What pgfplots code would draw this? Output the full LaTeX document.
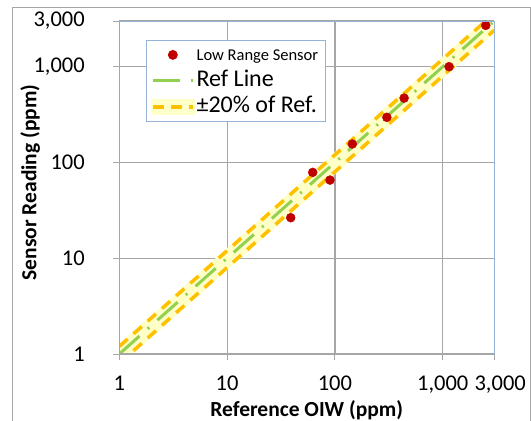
\documentclass[border=0pt]{standalone}
\usepackage{pgfplots}
\pgfplotsset{compat=1.18}
\usepackage{fontspec}
\setmainfont{Carlito}
\definecolor{gridgray}{RGB}{166,166,166}
\definecolor{boxblue}{RGB}{149,179,215}
\definecolor{refgreen}{RGB}{146,208,80}
\definecolor{bandorange}{RGB}{255,192,0}
\definecolor{bandfill}{RGB}{255,255,200}
\definecolor{ptred}{RGB}{192,0,0}
\begin{document}
\begin{tikzpicture}
\useasboundingbox (-119.3pt,-67pt) rectangle (411.7pt,354pt);
\begin{axis}[
  scale only axis, width=374.9pt, height=333pt,
  xmode=log, ymode=log,
  xmin=1, xmax=3000, ymin=1, ymax=3000,
  xtick={1,10,100,1000,3000}, xticklabels={1,10,100,{1,000},{\hspace*{12pt}3,000}},
  ytick={1,10,100,1000,3000}, yticklabels={1,10,100,{1,000},{3,000}},
  minor xtick={}, minor ytick={},
  tick align=outside, major tick length=6pt,
  tick style={gridgray, line width=1pt},
  xtick pos=bottom, ytick pos=left,
  grid=major, major grid style={gridgray, line width=1.2pt},
  axis line style={draw=none},
  ticklabel style={font=\fontsize{22.5}{26}\selectfont},
  xticklabel style={yshift=-12pt},
  yticklabel style={xshift=-25pt},
  /pgf/number format/assume math mode=true,
  xlabel={Reference OIW (ppm)}, ylabel={Sensor Reading (ppm)},
  label style={font=\fontsize{21.5}{25}\selectfont\bfseries},
  xlabel style={at={(axis description cs:0.5,-0.168)}, anchor=center},
  ylabel style={at={(axis description cs:-0.2374,0.515)}, anchor=center},
  clip mode=individual,
  legend cell align=left,
  legend style={at={(axis description cs:0.0704,0.943)}, anchor=north west,
    draw=boxblue, line width=0.8pt, fill=white,
    font=\fontsize{24}{27}\selectfont,
    inner xsep=5pt, inner ysep=1.5pt, row sep=0pt,
    nodes={inner sep=2pt, text height=17pt, text depth=5pt},
    /tikz/every even column/.append style={column sep=3pt}},
]
% legend entries
\addlegendimage{only marks, mark=*, mark size=4.5pt, ptred,
  legend image code/.code={\draw[mark repeat=2,mark phase=2] plot coordinates {(0pt,0pt)(20pt,0pt)(40pt,0pt)};}}
\addlegendentry{\fontsize{16.5}{18}\selectfont Low Range Sensor}
\addlegendimage{refgreen, line width=3pt, dash pattern=on 27pt off 11pt on 2pt off 11pt,
  legend image code/.code={\draw (0pt,0pt) -- (40pt,0pt);}}
\addlegendentry{Ref Line}
\addlegendimage{bandorange, line width=3.5pt,
  legend image code/.code={\fill[bandfill] (0pt,-6.5pt) rectangle (40pt,6.5pt);
    \draw[bandorange, line width=3.5pt, dash pattern=on 11pt off 7pt] (0pt,0pt) -- (40pt,0pt);}}
\addlegendentry{±20\% of Ref.}
% band
\addplot[fill=bandfill, draw=bandfill, line width=4pt, forget plot]
  coordinates {(1,0.8) (3000,2400) (3000,3600) (1,1.2)};
% +-20% lines
\addplot[bandorange, line width=3.5pt, dash pattern=on 11pt off 8pt, forget plot]
  coordinates {(1,1.2) (3000,3600)};
\addplot[bandorange, line width=3.5pt, dash pattern=on 11pt off 8pt, forget plot]
  coordinates {(1,0.8) (3000,2400)};
% reference line
\addplot[refgreen, line width=3pt, dash pattern=on 27pt off 11pt on 2pt off 11pt, forget plot]
  coordinates {(1,1) (3000,3000)};
% sensor points
\addplot[only marks, mark=*, mark size=4.5pt, ptred, forget plot]
  coordinates {(38.9,26.5) (62.2,78.8) (90,65.5) (145,156) (303,296) (438,470) (1144,1000) (2506,2700)};
% axis box
\draw[boxblue, line width=1pt] (rel axis cs:0,1) -- (rel axis cs:1,1) -- (rel axis cs:1,0);
\draw[gridgray, line width=1.2pt] (rel axis cs:0,1) -- (rel axis cs:0,0) -- (rel axis cs:1,0);
\end{axis}
\draw[gridgray, line width=0.8pt] (-107.3pt,-70pt) -- (-107.3pt,347pt) -- (410.7pt,347pt) -- (410.7pt,-70pt);
\end{tikzpicture}
\end{document}
